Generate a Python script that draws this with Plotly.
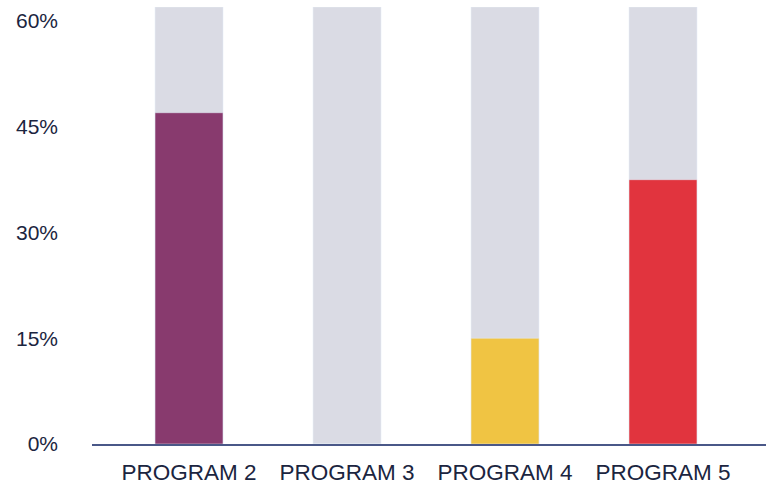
import plotly.graph_objects as go

categories = ["PROGRAM 2", "PROGRAM 3", "PROGRAM 4", "PROGRAM 5"]
values = [47, 0, 15, 37.5]
background = [62, 62, 62, 62]
bar_colors = ["#883a6e", "#dadbe4", "#f0c443", "#e1343e"]
y_ticks = [0, 15, 30, 45, 60]
y_tick_labels = ["0%", "15%", "30%", "45%", "60%"]

fig = go.Figure()
fig.add_trace(go.Bar(x=categories, y=background, marker_color="#dadbe4",
                     width=0.43, hoverinfo="skip", showlegend=False))
fig.add_trace(go.Bar(x=categories, y=values, marker_color=bar_colors,
                     width=0.43, showlegend=False))

fig.update_layout(
    width=766, height=491,
    barmode="overlay",
    margin=dict(l=92, r=0, t=7, b=47),
    plot_bgcolor="white", paper_bgcolor="white",
    font=dict(family="Liberation Sans, Arial, sans-serif", color="#1b2540", size=20),
)
fig.update_xaxes(
    range=[-0.614, 3.652], showline=True, linecolor="#4a5888", linewidth=2,
    showgrid=False, ticks="", tickfont=dict(size=22.5), ticklabelstandoff=7,
)
fig.update_yaxes(
    range=[0, 62], tickvals=y_ticks, ticktext=y_tick_labels, showgrid=False,
    zeroline=False, showline=False, ticks="", tickfont=dict(size=21),
    ticklabelstandoff=33,
)
fig.write_html("out.html", config={"displayModeBar": False},
               post_script="document.body.style.margin='0';")
